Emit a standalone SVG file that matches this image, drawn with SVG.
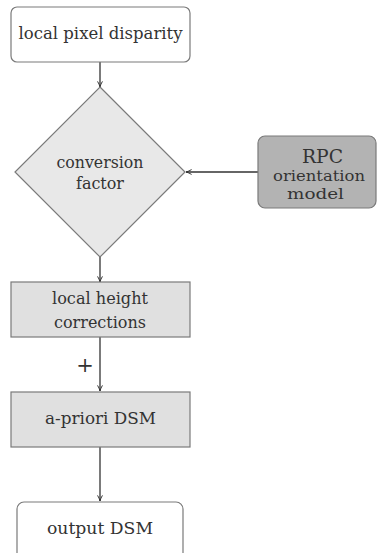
<svg xmlns="http://www.w3.org/2000/svg" width="377" height="553" viewBox="0 0 377 553">
<defs>
<marker id="arr" viewBox="0 0 10 10" refX="9" refY="5" markerWidth="7" markerHeight="7" orient="auto" markerUnits="userSpaceOnUse">
<path d="M1,1.5 Q5,4 9,5 Q5,6 1,8.5" fill="none" stroke="#333" stroke-width="1.4"/>
</marker>
<style>
text{fill:#333;font-size:16px;text-anchor:middle}
.box{stroke:#7a7a7a;stroke-width:1.2}
.edge{stroke:#333;stroke-width:1.3;fill:none;marker-end:url(#arr)}
.sm{font-size:15px}
</style>
</defs>
<rect width="377" height="553" fill="#fff"/>
<g font-family="'DejaVu Serif', serif">
<g id="connectors">
<line class="edge" x1="100" y1="62" x2="100" y2="87"/>
<line class="edge" x1="258" y1="172" x2="186" y2="172"/>
<line class="edge" x1="100" y1="257" x2="100" y2="282"/>
<line class="edge" x1="100" y1="337" x2="100" y2="391"/>
<line class="edge" x1="100" y1="447" x2="100" y2="501"/>
<text x="85" y="372" style="font-size:21px;font-weight:300">+</text>
</g>
<g id="n-disparity">
<rect class="box" x="11" y="7" width="179" height="55" rx="6" fill="#fff"/>
<text x="100.5" y="39" textLength="164" lengthAdjust="spacingAndGlyphs">local pixel disparity</text>
</g>
<g id="n-conversion">
<polygon class="box" points="100,87 185,172 100,257 15,172" fill="#e8e8e8"/>
<text x="100" y="168" textLength="87" lengthAdjust="spacingAndGlyphs">conversion</text>
<text x="100" y="189" textLength="48" lengthAdjust="spacingAndGlyphs">factor</text>
</g>
<g id="n-rpc">
<rect class="box" x="258" y="136" width="118" height="72" rx="7" fill="#b3b3b3"/>
<text x="322.5" y="163" style="font-size:18px" textLength="41" lengthAdjust="spacingAndGlyphs">RPC</text>
<text class="sm" x="319" y="181" textLength="92" lengthAdjust="spacingAndGlyphs">orientation</text>
<text class="sm" x="315.5" y="199" textLength="57" lengthAdjust="spacingAndGlyphs">model</text>
</g>
<g id="n-height">
<rect class="box" x="11" y="282" width="179" height="55" fill="#e0e0e0"/>
<text x="100" y="304" textLength="96" lengthAdjust="spacingAndGlyphs">local height</text>
<text x="100" y="328" textLength="92" lengthAdjust="spacingAndGlyphs">corrections</text>
</g>
<g id="n-apriori">
<rect class="box" x="11" y="392" width="179" height="55" fill="#e0e0e0"/>
<text x="100.5" y="424" textLength="111" lengthAdjust="spacingAndGlyphs">a-priori DSM</text>
</g>
<g id="n-output">
<rect class="box" x="17" y="502" width="166" height="60" rx="7" fill="#fff"/>
<text x="100" y="534" textLength="106" lengthAdjust="spacingAndGlyphs">output DSM</text>
</g>
</g>
</svg>
